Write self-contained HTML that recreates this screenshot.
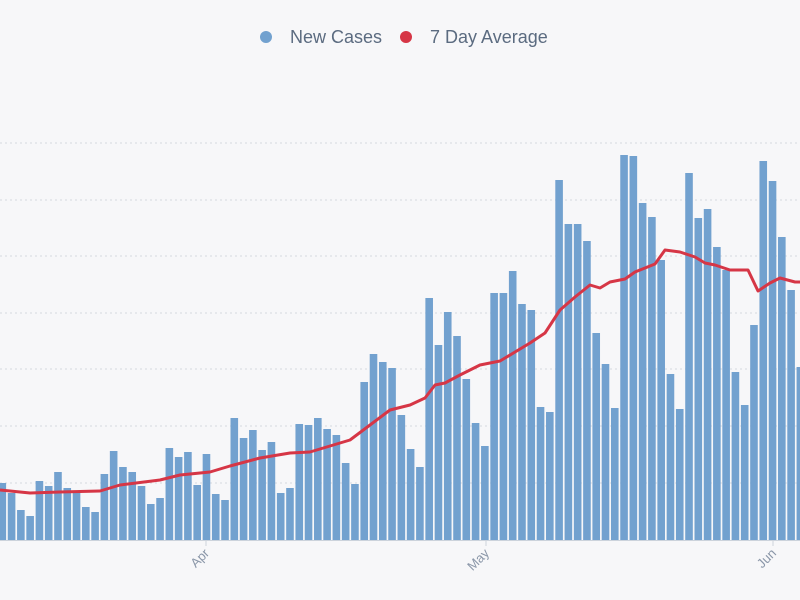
<!DOCTYPE html>
<html><head><style>
html,body{margin:0;padding:0;background:#f7f7f9;}
svg{display:block;font-family:"Liberation Sans",sans-serif;}
</style></head><body>
<svg width="800" height="600" xmlns="http://www.w3.org/2000/svg">
<rect width="800" height="600" fill="#f7f7f9"/>
<g stroke="#d5d8e0" stroke-width="1" stroke-dasharray="2,3">
<line x1="0" x2="800" y1="143" y2="143"/><line x1="0" x2="800" y1="200" y2="200"/>
<line x1="0" x2="800" y1="256" y2="256"/><line x1="0" x2="800" y1="313" y2="313"/>
<line x1="0" x2="800" y1="369" y2="369"/><line x1="0" x2="800" y1="426" y2="426"/>
<line x1="0" x2="800" y1="483" y2="483"/>
</g>
<g id="bars" fill="#72a1cf"></g>
<line x1="0" x2="800" y1="540.5" y2="540.5" stroke="#ccd3dc"/>
<g stroke="#ccd3dc"><line x1="206" x2="206" y1="540" y2="546"/><line x1="486" x2="486" y1="540" y2="546"/><line x1="773" x2="773" y1="540" y2="546"/></g>
<g fill="#8a96a8" font-size="13">
<text transform="translate(210,554) rotate(-45)" text-anchor="end">Apr</text>
<text transform="translate(490,554) rotate(-45)" text-anchor="end">May</text>
<text transform="translate(777,554) rotate(-45)" text-anchor="end">Jun</text>
</g>
<polyline fill="none" stroke="#d63646" stroke-width="3" stroke-linejoin="round" points="0,490 30,493 60,492 100,491 120,485 160,480 180,475 210,472 230,466 260,458 290,453 310,452 330,446 350,440 370,425 390,410 410,405 425,398 435,385 445,383 460,375 480,365 500,361 530,343 545,333 560,310 575,297 590,285 600,288 610,282 625,279 635,272 645,268 655,264 665,250 680,252 695,257 705,263 715,265 730,270 748,270 758,291 770,283 780,278 795,282 800,282"/>
<circle cx="266" cy="37" r="6" fill="#72a1cf"/>
<text x="290" y="43" font-size="18" fill="#5b6b80">New Cases</text>
<circle cx="406" cy="37" r="6" fill="#d63646"/>
<text x="430" y="43" font-size="18" fill="#5b6b80">7 Day Average</text>
</svg>
<script>
var t=[483,493,510,516,481,486,472,488,492,507,512,474,451,467,472,486,504,498,448,457,452,485,454,494,500,418,438,430,450,442,493,488,424,425,418,429,435,463,484,382,354,362,368,415,449,467,298,345,312,336,379,423,446,293,293,271,304,310,407,412,180,224,224,241,333,364,408,155,156,203,217,260,374,409,173,218,209,247,270,372,405,325,161,181,237,290,367];
var g=document.getElementById('bars'),s='';
for(var i=0;i<t.length;i++){var x=-1.5+i*9.28;s+='<rect x="'+x.toFixed(2)+'" y="'+t[i]+'" width="7.6" height="'+(540-t[i])+'"/>';}
g.innerHTML=s;
</script>
</body></html>
